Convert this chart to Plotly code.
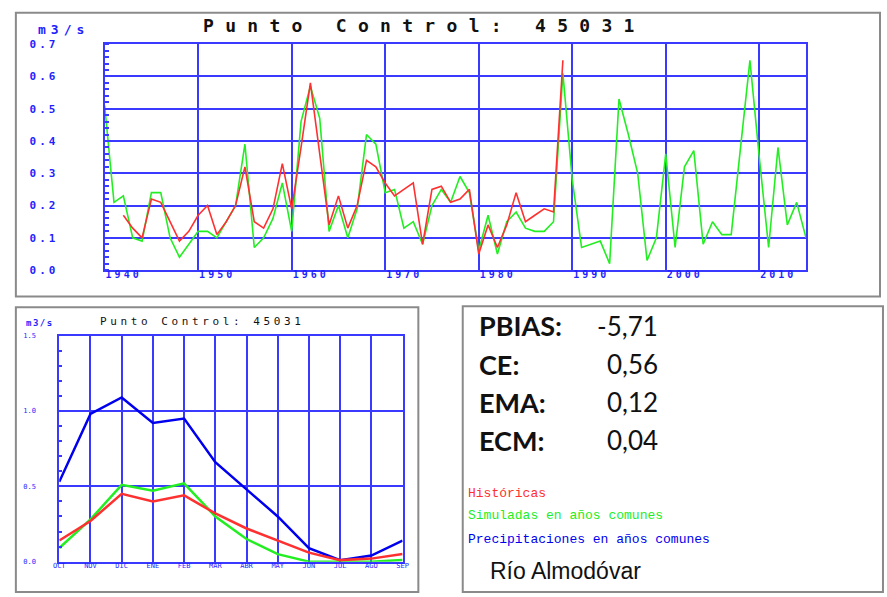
import plotly.graph_objects as go

W, H = 887, 597

# ---------------- data ----------------
years = list(range(1940, 2016))
simulated = [0.51, 0.21, 0.23, 0.10, 0.09, 0.24, 0.24, 0.10, 0.04, 0.08,
             0.12, 0.12, 0.10, 0.15, 0.20, 0.39, 0.07, 0.10, 0.16, 0.27,
             0.12, 0.46, 0.57, 0.47, 0.12, 0.20, 0.10, 0.19, 0.42, 0.39,
             0.24, 0.25, 0.13, 0.15, 0.08, 0.20, 0.25, 0.21, 0.29, 0.24,
             0.06, 0.17, 0.05, 0.15, 0.18, 0.13, 0.12, 0.12, 0.15, 0.61,
             0.28, 0.07, 0.08, 0.09, 0.02, 0.53, 0.42, 0.30, 0.03, 0.10,
             0.36, 0.07, 0.32, 0.37, 0.08, 0.15, 0.11, 0.11, 0.38, 0.65,
             0.35, 0.07, 0.38, 0.14, 0.21, 0.10]
hist_years = list(range(1942, 1990))
historical = [0.17, 0.13, 0.10, 0.22, 0.21, 0.15, 0.09, 0.12,
              0.17, 0.20, 0.11, 0.15, 0.20, 0.32, 0.15, 0.13, 0.19, 0.33,
              0.19, 0.38, 0.58, 0.36, 0.14, 0.23, 0.13, 0.20, 0.34, 0.32,
              0.27, 0.23, 0.25, 0.27, 0.08, 0.25, 0.26, 0.21, 0.22, 0.25,
              0.05, 0.14, 0.07, 0.14, 0.24, 0.15, 0.17, 0.19, 0.18, 0.65]
year_ticks = [1940, 1950, 1960, 1970, 1980, 1990, 2000, 2010]
flow_ticks = [0.0, 0.1, 0.2, 0.3, 0.4, 0.5, 0.6, 0.7]

months = ["OCT", "NOV", "DIC", "ENE", "FEB", "MAR", "ABR", "MAY", "JUN", "JUL", "AGO", "SEP"]
m_hist = [0.14, 0.27, 0.45, 0.40, 0.44, 0.32, 0.22, 0.14, 0.06, 0.01, 0.02, 0.05]
m_sim = [0.09, 0.28, 0.51, 0.47, 0.52, 0.30, 0.15, 0.05, 0.00, 0.00, 0.00, 0.01]
m_prec = [0.53, 0.98, 1.09, 0.92, 0.95, 0.66, 0.48, 0.30, 0.09, 0.01, 0.04, 0.14]

stat_labels = ["PBIAS:", "CE:", "EMA:", "ECM:"]
stat_values = ["-5,71", "0,56", "0,12", "0,04"]

legend_texts = ["Históricas", "Simuladas en años comunes", "Precipitaciones en años comunes"]
river = "Río Almodóvar"
title_top = "Punto Control: 45031"
title_bottom = "Punto Control: 45031"
unit = "m3/s"

# ---------------- style ----------------
BLUE = "#1f1fff"
GRID = "#3a3aff"
GREEN = "#22ee22"
RED = "#ff3030"
PBLUE = "#0000ee"
MONO = "DejaVu Sans Mono"


def px(x):
    return x / W


def py(y):
    return 1 - y / H


def spaced(t, s):
    return '<span style="letter-spacing:%spx">%s</span>' % (s, t)


fig = go.Figure()

fig.add_trace(go.Scatter(x=years, y=simulated, mode="lines",
                         line=dict(color=GREEN, width=1.6), xaxis="x", yaxis="y"))
fig.add_trace(go.Scatter(x=hist_years, y=historical, mode="lines",
                         line=dict(color=RED, width=1.6), xaxis="x", yaxis="y"))

mi = list(range(len(months)))
fig.add_trace(go.Scatter(x=mi, y=m_prec, mode="lines",
                         line=dict(color=PBLUE, width=2.5), xaxis="x2", yaxis="y2"))
fig.add_trace(go.Scatter(x=mi, y=m_sim, mode="lines",
                         line=dict(color=GREEN, width=2.5), xaxis="x2", yaxis="y2"))
fig.add_trace(go.Scatter(x=mi, y=m_hist, mode="lines",
                         line=dict(color=RED, width=2.5), xaxis="x2", yaxis="y2"))

axis_common = dict(showgrid=True, gridcolor=GRID, gridwidth=2, showline=True,
                   linecolor=GRID, linewidth=2, mirror=True, zeroline=False)

fig.update_layout(
    width=W, height=H, margin=dict(l=0, r=0, t=0, b=0),
    paper_bgcolor="white", plot_bgcolor="white", showlegend=False,
    xaxis=dict(domain=[px(100), px(811)], range=[1940, 2015], anchor="y",
               tickmode="array", tickvals=year_ticks,
               ticktext=[spaced(str(v), 3) for v in year_ticks], ticks="",
               tickfont=dict(family=MONO, size=10, color=BLUE, weight="bold"),
               ticklabelshift=19, ticklabelstandoff=-6, **axis_common),
    yaxis=dict(domain=[py(270), py(39)], range=[0, 0.7], anchor="x",
               tickmode="array", tickvals=flow_ticks,
               ticktext=[spaced("%.1f" % v, 3) for v in flow_ticks], ticks="",
               tickfont=dict(family=MONO, size=11, color=BLUE, weight="bold"),
               ticklabelstandoff=42,
               minor=dict(ticks="inside", dtick=0.02, ticklen=4, tickcolor=GRID,
                          tickwidth=1.5, showgrid=False),
               **axis_common),
    xaxis2=dict(domain=[px(54), px(402)], range=[0, 11], anchor="y2",
                tickmode="array", tickvals=mi, ticktext=months, ticks="",
                tickfont=dict(family=MONO, size=7, color=BLUE),
                ticklabelstandoff=-4, **axis_common),
    yaxis2=dict(domain=[py(568), py(337)], range=[0, 1.5], anchor="x2",
                dtick=0.5, tickformat=".1f", ticks="",
                tickfont=dict(family=MONO, size=7, color=BLUE),
                ticklabelstandoff=20,
                minor=dict(ticks="inside", dtick=0.1, ticklen=3, tickcolor=GRID,
                           tickwidth=1.5, showgrid=False),
                **axis_common),
)

# panel borders
shapes = [
    dict(x0=10, x1=886, y0=7, y1=297),
    dict(x0=10, x1=418, y0=308, y1=599),
    dict(x0=463, x1=889, y0=307, y1=599),
]
for s in shapes:
    fig.add_shape(type="rect", xref="paper", yref="paper",
                  x0=px(s["x0"]), x1=px(s["x1"]), y0=py(s["y1"]), y1=py(s["y0"]),
                  line=dict(color="#8a8a8a", width=2), fillcolor="rgba(0,0,0,0)",
                  layer="below")

ann = []
ann.append(dict(x=px(424), y=py(20), text=spaced(title_top, 11.3),
                font=dict(family=MONO, size=18, color="#111111", weight="bold"),
                xanchor="center", yanchor="middle"))
ann.append(dict(x=px(30), y=py(24), text=spaced(unit, 5),
                font=dict(family=MONO, size=13, color=BLUE, weight="bold"),
                xanchor="left", yanchor="middle"))
ann.append(dict(x=px(199), y=py(323), text=spaced(title_bottom, 3.6),
                font=dict(family=MONO, size=11, color="#111111"),
                xanchor="center", yanchor="middle"))
ann.append(dict(x=px(18), y=py(324), text=spaced(unit, 1.5),
                font=dict(family=MONO, size=9, color=BLUE, weight="bold"),
                xanchor="left", yanchor="middle"))

stat_y = [327, 366, 405, 444]
for lab, val, yy in zip(stat_labels, stat_values, stat_y):
    ann.append(dict(x=px(477), y=py(yy), text=lab,
                    font=dict(family="Lato", size=27, color="#111111", weight="bold"),
                    xanchor="left", yanchor="middle"))
    ann.append(dict(x=px(663), y=py(yy), text=val,
                    font=dict(family="Lato", size=26, color="#111111"),
                    xanchor="right", yanchor="middle"))

leg_cols = [RED, GREEN, PBLUE]
leg_y = [498, 521, 545]
for t, c, yy in zip(legend_texts, leg_cols, leg_y):
    ann.append(dict(x=px(466), y=py(yy), text=t,
                    font=dict(family="Liberation Mono", size=13, color=c),
                    xanchor="left", yanchor="middle"))

ann.append(dict(x=px(489), y=py(578), text=river,
                font=dict(family="Liberation Sans", size=23, color="#111111"),
                xanchor="left", yanchor="middle"))

for a in ann:
    a.update(xref="paper", yref="paper", showarrow=False)
    fig.add_annotation(**a)

post = (
    "document.documentElement.style.margin='0';"
    "document.documentElement.style.padding='0';"
    "document.documentElement.style.overflow='hidden';"
    "document.body.style.margin='0';"
    "document.body.style.padding='0';"
    "document.body.style.overflow='hidden';"
    "var gd=document.getElementById('{plot_id}');"
    "gd.style.position='fixed';gd.style.left='0px';gd.style.top='0px';"
)

fig.write_html("out.html", config={"displayModeBar": False}, post_script=post)
